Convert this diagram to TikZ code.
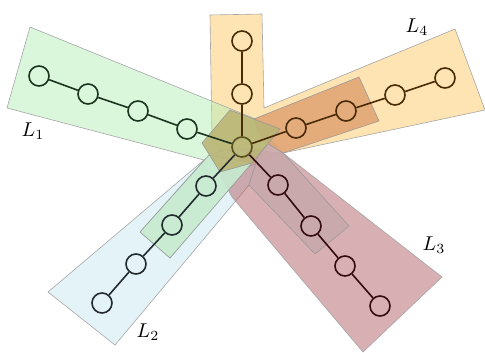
\documentclass[tikz,border=0pt]{standalone}
\definecolor{bagone}{RGB}{181,239,185}
\definecolor{bagtwo}{RGB}{201,231,239}
\definecolor{bagthree}{RGB}{177,95,101}
\definecolor{bagfour}{RGB}{252,201,101}
\definecolor{midgreen}{RGB}{200,236,208}
\definecolor{mauve}{RGB}{201,170,173}
\definecolor{darkorange}{RGB}{226,166,118}
\definecolor{olivebag}{RGB}{187,181,118}
\definecolor{inkone}{RGB}{28,52,30}
\definecolor{inktwo}{RGB}{34,42,48}
\definecolor{inkthree}{RGB}{50,12,16}
\definecolor{inkfour}{RGB}{72,42,6}
\definecolor{inkmid}{RGB}{88,80,30}
\begin{document}
\begin{tikzpicture}[
x=0.5pt,y=-0.5pt,
vertex/.style={
draw,
circle,
minimum size=10pt,
inner sep=0pt,
line width=0.8pt
},
bag/.style={
draw=black!35,
line width=0.3pt,
fill opacity=0.5
},
subbag/.style={
draw=black!40,
line width=0.3pt,
fill opacity=0.9
},
link/.style={
line width=0.8pt
}
]

\useasboundingbox (0,0) rectangle (485,352);

% bags L4, L1, L2, L3
\filldraw[bag,fill=bagfour] (210,15) -- (262,14) -- (264,108) -- (455,29)
-- (485,110) -- (283,153) -- (240,170) -- (212,140) -- cycle;
\filldraw[bag,fill=bagone] (30,27) -- (280,129) -- (170,258) -- (140,232)
-- (204,160) -- (7,108) -- cycle;
\filldraw[bag,fill=bagtwo] (48,292) -- (204,160) -- (222,150) -- (262,150)
-- (249,185) -- (115,345) -- cycle;
\filldraw[bag,fill=bagthree] (363,352) -- (442,277) -- (283,153) -- (250,150)
-- (220,175) -- (232,197) -- cycle;

% overlaps
\filldraw[subbag,fill=midgreen] (140,232) -- (170,258) -- (252,163) -- (209,155) -- cycle;
\filldraw[subbag,fill=mauve] (249,185) -- (315,254) -- (349,226) -- (283,153)
-- (271,140) -- (258,156) -- cycle;
\filldraw[subbag,fill=darkorange] (359,77) -- (379,121) -- (283,153) -- (262,140)
-- (254,119) -- cycle;
\filldraw[subbag,fill=olivebag] (202,143) -- (230,110) -- (280,129) -- (252,163)
-- (220,172) -- cycle;

% vertices
\node[vertex,draw=inkmid] (c) at (242,147) {};

\node[vertex,draw=inkone] (a1) at (39,76) {};
\node[vertex,draw=inkone] (a2) at (88,94) {};
\node[vertex,draw=inkone] (a3) at (138,111) {};
\node[vertex,draw=inkone] (a4) at (187,129) {};

\node[vertex,draw=inkfour] (u1) at (242,94) {};
\node[vertex,draw=inkfour] (u2) at (242,41) {};

\node[vertex,draw=inkfour] (r1) at (296,128) {};
\node[vertex,draw=inkfour] (r2) at (346,111) {};
\node[vertex,draw=inkfour] (r3) at (395,95) {};
\node[vertex,draw=inkfour] (r4) at (445,78) {};

\node[vertex,draw=inkthree] (d1) at (278,185) {};
\node[vertex,draw=inkthree] (d2) at (311,226) {};
\node[vertex,draw=inkthree] (d3) at (345,266) {};
\node[vertex,draw=inkthree] (d4) at (380,306) {};

\node[vertex,draw=inktwo] (b1) at (206,186) {};
\node[vertex,draw=inktwo] (b2) at (172,225) {};
\node[vertex,draw=inktwo] (b3) at (136,264) {};
\node[vertex,draw=inktwo] (b4) at (102,303) {};

% edges
\draw[link,inkone] (a1) -- (a2) -- (a3) -- (a4) -- (c);
\draw[link,inkfour] (u2) -- (u1) -- (c);
\draw[link,inkfour] (c) -- (r1) -- (r2) -- (r3) -- (r4);
\draw[link,inkthree] (c) -- (d1) -- (d2) -- (d3) -- (d4);
\draw[link,inktwo] (c) -- (b1) -- (b2) -- (b3) -- (b4);

% labels
\node (L1) at (33,131) {$L_1$};
\node (L2) at (148,332) {$L_2$};
\node (L3) at (434,245) {$L_3$};
\node (L4) at (417,27) {$L_4$};

\end{tikzpicture}
\end{document}
